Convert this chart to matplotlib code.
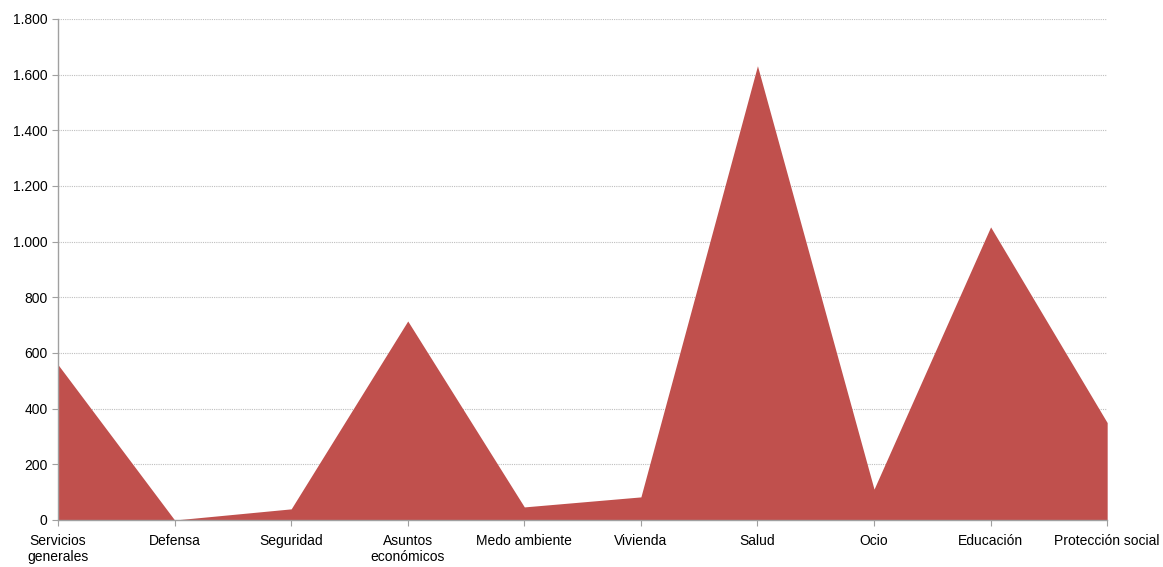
import numpy as np
import matplotlib.pyplot as plt
from matplotlib.ticker import FuncFormatter

categorias = ["Servicios\ngenerales", "Defensa", "Seguridad", "Asuntos\neconómicos",
              "Medo ambiente", "Vivienda", "Salud", "Ocio", "Educación", "Protección social"]
valores = [558, 0, 40, 715, 47, 83, 1632, 111, 1053, 350]

plt.rcParams['font.family'] = ['Liberation Sans', 'DejaVu Sans']

fig = plt.figure(figsize=(11.63, 5.67), dpi=100)
ax = fig.add_axes([0.0499, 0.0829, 0.952 - 0.0499, 0.9665 - 0.0829])

x = np.arange(len(categorias))
ax.fill_between(x, valores, 0, color='#C0504D', linewidth=0, zorder=2)

ax.set_xlim(0, len(categorias) - 1)
ax.set_ylim(0, 1800)
ax.set_yticks(np.arange(0, 1801, 200))
ax.yaxis.set_major_formatter(FuncFormatter(lambda v, p: f"{int(v):,}".replace(",", ".")))
ax.set_xticks(x)
ax.set_xticklabels(categorias)

ax.grid(axis='y', color='#BFBFBF', linestyle=(0, (1, 1)), linewidth=0.8, zorder=1)
for s in ['top', 'right']:
    ax.spines[s].set_visible(False)
for s in ['left', 'bottom']:
    ax.spines[s].set_color('#A0A0A0')
    ax.spines[s].set_linewidth(1)
ax.tick_params(axis='both', colors='#A0A0A0', labelcolor='black', labelsize=10, length=4)
ax.tick_params(axis='x', pad=6)

fig.savefig('out.png', dpi=100)
